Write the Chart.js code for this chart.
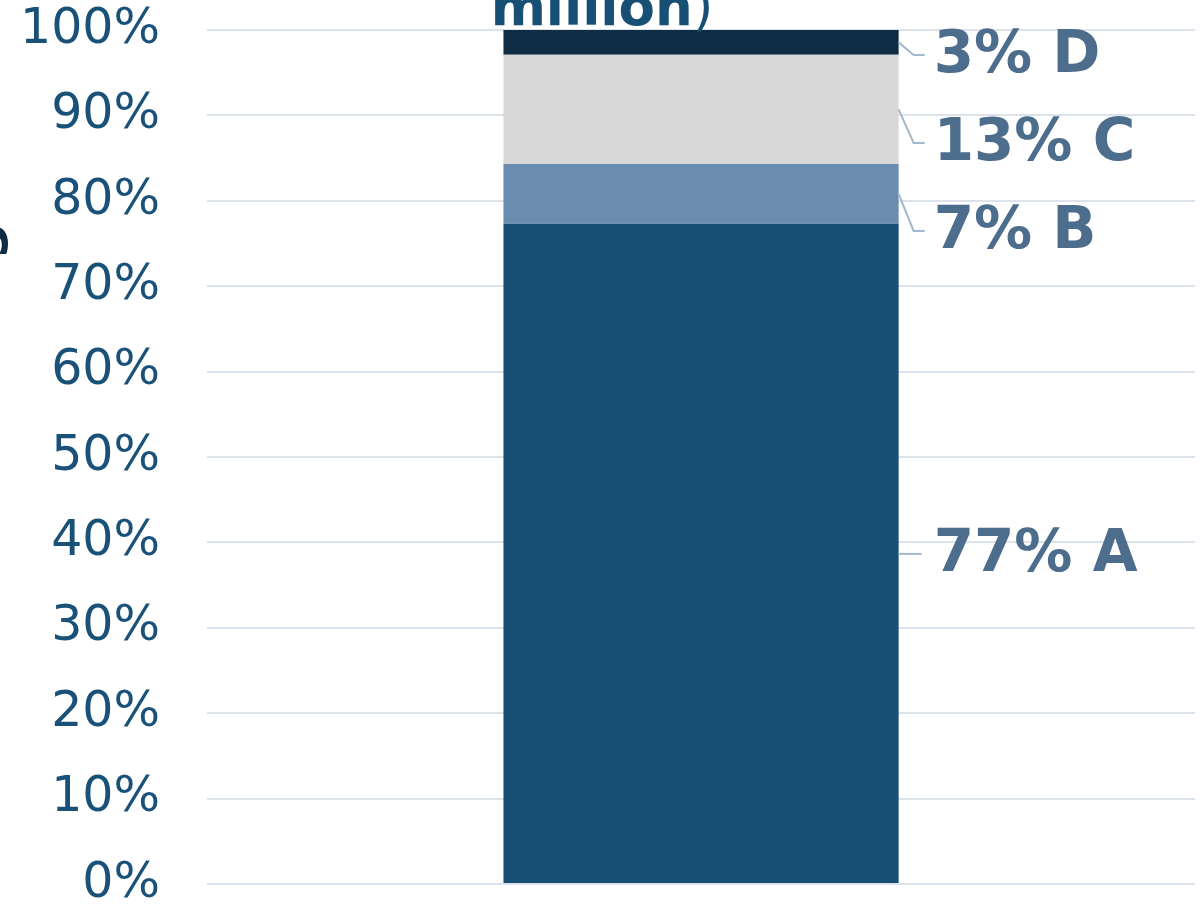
<!DOCTYPE html>
<html>
<head>
<meta charset="utf-8">
<script src="https://cdn.jsdelivr.net/npm/chart.js@4/dist/chart.umd.min.js"></script>
<style>
    html, body { margin: 0; padding: 0; background: #ffffff; }
    #wrap { width: 1204px; height: 906px; position: relative; }
</style>
</head>
<body>
<div id="wrap"><canvas id="chart"></canvas></div>
<script>
const categories = [''];
const seriesNames = ['A', 'B', 'C', 'D'];
const shareA = [77.3];
const shareB = [7.0];
const shareC = [12.8];
const shareD = [2.9];
const seriesColors = ['#174f75', '#6a8cae', '#d8d8d8', '#0e2c43'];

const FONT = '"DejaVu Sans", Verdana, sans-serif';

// Callout labels to the right of the bar, pushed down so they don't overlap
const calloutPlugin = {
    id: 'callouts',
    afterDatasetsDraw(chart) {
        const ctx = chart.ctx;
        const yScale = chart.scales.y;
        const items = [];
        let base = 0;
        chart.data.datasets.forEach((ds, i) => {
            const bar = chart.getDatasetMeta(i).data[0];
            const v = ds.data[0];
            items.push({
                name: ds.label,
                value: v,
                right: bar.x + bar.width / 2,
                mid: yScale.getPixelForValue(base + v / 2)
            });
            base += v;
        });
        items.sort((a, b) => a.mid - b.mid);
        let prev = -Infinity;
        items.forEach(it => {
            it.ly = Math.max(it.mid, chart.chartArea.top + 25, prev + 88);
            prev = it.ly;
        });

        ctx.save();
        ctx.strokeStyle = '#a3b8cc';
        ctx.lineWidth = 2;
        ctx.font = 'bold 58px ' + FONT;
        ctx.fillStyle = '#4d6d8d';
        ctx.textBaseline = 'middle';
        ctx.textAlign = 'left';
        items.forEach(it => {
            ctx.beginPath();
            ctx.moveTo(it.right, it.mid);
            if (Math.abs(it.ly - it.mid) > 1) {
                ctx.lineTo(it.right + 15, it.ly);
                ctx.lineTo(it.right + 26, it.ly);
            } else {
                ctx.lineTo(it.right + 23, it.ly);
            }
            ctx.stroke();
            ctx.fillText(Math.round(it.value) + '% ' + it.name, it.right + 35, it.ly + 2);
        });
        ctx.restore();
    }
};

// Title and y-axis title, both partly outside the visible canvas
const titlePlugin = {
    id: 'cutTitles',
    afterDraw(chart) {
        const ctx = chart.ctx;
        ctx.save();
        ctx.fillStyle = '#174f75';
        ctx.textBaseline = 'alphabetic';
        ctx.textAlign = 'left';
        ctx.font = 'bold 53px ' + FONT;
        const w1 = ctx.measureText('million').width;
        ctx.font = '53px ' + FONT;
        const w2 = ctx.measureText(')').width;
        const x0 = chart.width / 2 - (w1 + w2) / 2;
        const baseY = chart.chartArea.top - 5;
        ctx.font = 'bold 53px ' + FONT;
        ctx.fillText('million', x0, baseY);
        ctx.font = '53px ' + FONT;
        ctx.fillText(')', x0 + w1, baseY);
        ctx.restore();

        ctx.save();
        ctx.fillStyle = '#0e2c43';
        ctx.font = 'bold 53px ' + FONT;
        ctx.translate(-3, 186);
        ctx.rotate(-Math.PI / 2);
        ctx.textAlign = 'right';
        ctx.textBaseline = 'alphabetic';
        ctx.fillText('Percentage', 0, 0);
        ctx.restore();
    }
};

const datasets = [shareA, shareB, shareC, shareD].map((data, i) => ({
    label: seriesNames[i],
    data: data,
    backgroundColor: seriesColors[i],
    borderWidth: 0,
    categoryPercentage: 0.4,
    barPercentage: 1.0
}));

new Chart(document.getElementById('chart'), {
    type: 'bar',
    data: { labels: categories, datasets: datasets },
    plugins: [calloutPlugin, titlePlugin],
    options: {
        responsive: true,
        maintainAspectRatio: false,
        animation: false,
        layout: {
            padding: { top: 30, right: 9, bottom: 0, left: 20 }
        },
        plugins: {
            legend: { display: false },
            tooltip: { enabled: false },
            title: { display: false }
        },
        scales: {
            x: {
                stacked: true,
                display: false
            },
            y: {
                stacked: true,
                min: 0,
                max: 100,
                border: { display: false },
                grid: {
                    color: '#dce3eb',
                    lineWidth: 2,
                    drawTicks: true,
                    tickLength: 47,
                    tickColor: 'rgba(0,0,0,0)'
                },
                ticks: {
                    stepSize: 10,
                    padding: 0,
                    color: '#1a5178',
                    font: { family: FONT, size: 49, lineHeight: 0.9 },
                    callback: v => v + '%'
                }
            }
        }
    }
});
</script>
</body>
</html>
